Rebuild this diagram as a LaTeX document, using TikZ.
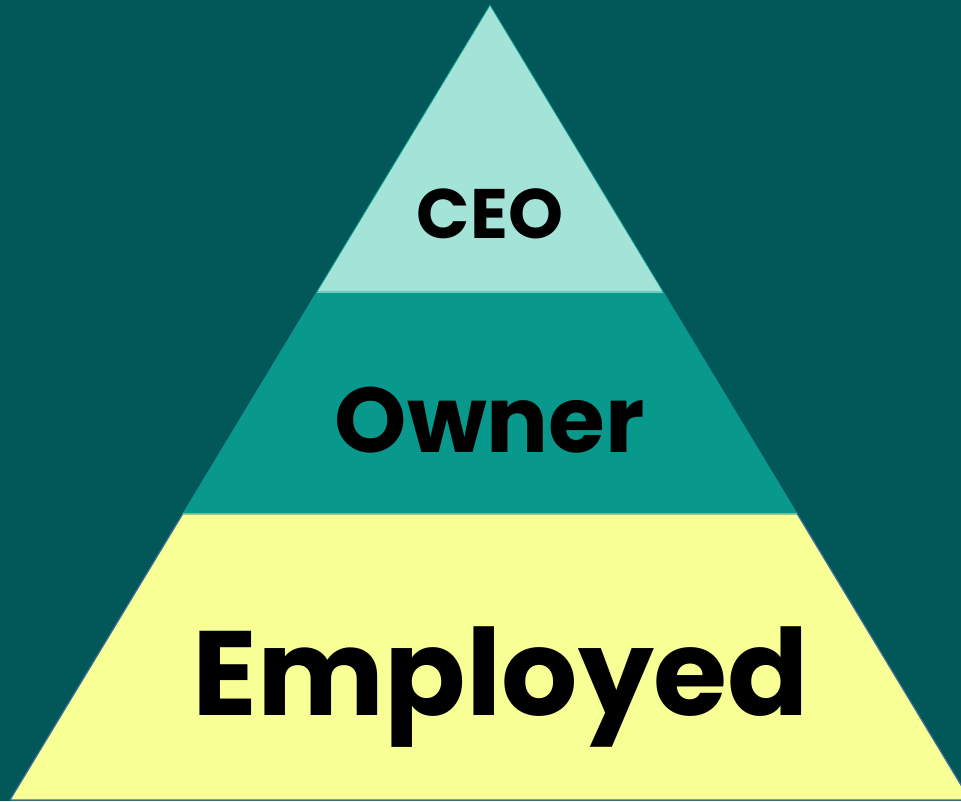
\documentclass[tikz,border=0pt]{standalone}
\usepackage{fontspec}
\setmainfont{Poppins}
\usetikzlibrary{calc}

\definecolor{bgteal}{RGB}{2,88,88}
\definecolor{ceomint}{RGB}{163,227,216}
\definecolor{ownerteal}{RGB}{8,153,140}
\definecolor{employedyellow}{RGB}{247,255,149}
\definecolor{edgeblue}{RGB}{60,110,165}

\begin{document}
\begin{tikzpicture}[
    x=1pt,
    y=-1pt,
    line join=round,
    tier/.style={font=\bfseries, text=black, anchor=base}
]
% 背景
\useasboundingbox[fill=bgteal] (0,0) rectangle (961,801);

% 三角形顶点
\coordinate (P) at (490,5);
\coordinate (A) at (10,800);
\coordinate (B) at (970,800);

% 分层的交点
\coordinate (E) at ($(P)!0.361!(A)$);
\coordinate (F) at ($(P)!0.361!(B)$);
\coordinate (G) at ($(P)!0.640!(A)$);
\coordinate (H) at ($(P)!0.640!(B)$);

\filldraw[fill=employedyellow,draw=edgeblue,line width=1.2pt] (G) -- (A) -- (B) -- (H) -- cycle;
\filldraw[fill=ownerteal,draw=ownerteal!80!edgeblue,line width=0.8pt] (E) -- (G) -- (H) -- (F) -- cycle;
\filldraw[fill=ceomint,draw=ownerteal,line width=0.8pt] (P) -- (E) -- (F) -- cycle;
\draw[ceomint!70!ownerteal,line width=0.8pt] (E) -- (F);
\draw[ownerteal!60!employedyellow,line width=0.8pt] (G) -- (H);

\node[tier,font=\fontsize{70}{70}\selectfont\bfseries] (ceo) at (490,238) {CEO};
\node[tier,font=\fontsize{92}{92}\selectfont\bfseries] (owner) at (490,452) {Owner};
\node[tier,font=\fontsize{120}{120}\selectfont\bfseries] (employed) at (501,715) {Employed};

\end{tikzpicture}
\end{document}
